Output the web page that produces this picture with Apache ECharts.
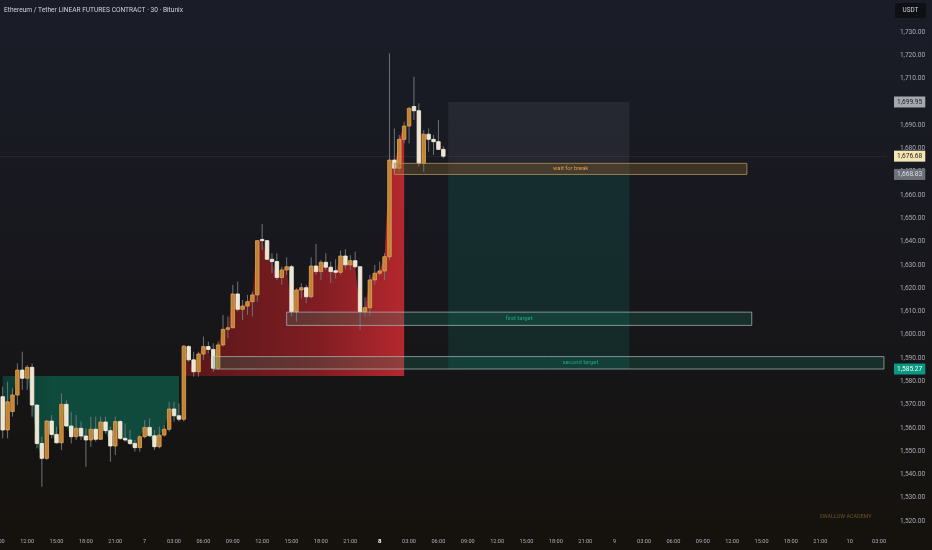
<!DOCTYPE html>
<html><head><meta charset="utf-8">
<script src="https://cdn.jsdelivr.net/npm/echarts@6/dist/echarts.min.js"></script>
<style>html,body{margin:0;padding:0;background:#17181d}#c{width:932px;height:550px}</style>
</head><body><div id="c"></div>
<script>
// ---- time slots (30 min), starting 6th 09:00 ----
const startDay = 6, startMinutes = 9 * 60, slotCount = 182, slotMinutes = 30;
const times = [];
for (let i = 0; i < slotCount; i++) {
  const m = startMinutes + i * slotMinutes;
  const d = startDay + Math.floor(m / 1440), mm = m % 1440;
  times.push(d + ' ' + String(Math.floor(mm / 60)).padStart(2, '0') + ':' + String(mm % 60).padStart(2, '0'));
}
const firstCandle = '6 09:30';
const boldDay = '8';

// ---- candles ----
const opens  = [1573.4,1559.1,1567.0,1574.1,1584.8,1581.3,1586.0,1569.8,1553.3,1546.9,1562.9,1557.2,1553.6,1570.1,1560.8,1556.2,1559.8,1556.5,1554.8,1559.4,1555.1,1562.5,1558.8,1552.2,1562.7,1555.5,1554.8,1553.3,1551.5,1556.2,1560.2,1556.6,1551.9,1556.9,1559.4,1568.1,1565.2,1563.7,1594.9,1589.2,1584.1,1591.7,1594.9,1593.7,1585.6,1595.6,1602.3,1603.0,1617.5,1610.9,1612.3,1614.2,1617.1,1640.9,1640.4,1632.4,1631.4,1624.6,1627.8,1629.2,1609.9,1619.2,1620.2,1616.3,1629.5,1627.1,1631.1,1629.0,1627.5,1626.8,1633.8,1630.0,1631.8,1629.2,1609.9,1611.6,1623.5,1626.4,1627.4,1633.5,1675.0,1671.5,1683.9,1689.6,1698.0,1696.2,1673.6,1686.1,1683.9,1682.9,1679.6];
const closes = [1559.1,1571.2,1574.1,1584.8,1581.3,1586.0,1569.8,1553.3,1546.9,1562.9,1557.2,1553.6,1570.1,1560.8,1556.2,1559.8,1556.5,1554.8,1559.4,1555.1,1562.5,1558.8,1552.2,1562.7,1555.5,1554.8,1553.3,1551.5,1556.2,1560.2,1556.6,1551.9,1556.9,1559.4,1568.1,1565.2,1563.7,1595.1,1589.2,1584.1,1591.7,1594.9,1593.7,1585.6,1595.6,1602.3,1603.0,1617.5,1610.9,1612.3,1614.2,1617.1,1640.4,1640.4,1632.4,1631.4,1624.6,1627.8,1629.2,1609.9,1619.2,1620.2,1616.3,1629.5,1627.1,1631.1,1629.0,1627.1,1626.8,1633.8,1630.0,1631.8,1629.2,1609.9,1611.6,1623.5,1626.4,1627.4,1633.5,1675.0,1671.5,1683.9,1689.6,1697.2,1696.2,1673.6,1686.1,1683.9,1682.9,1679.6,1676.68];
const lows   = [1555.5,1555.5,1564.8,1569.8,1576.3,1576.3,1564.8,1551.2,1534.7,1546.2,1555.5,1553.3,1550.5,1560.5,1553.3,1554.8,1554.8,1543.3,1551.9,1554.1,1554.8,1557.6,1545.5,1548.3,1554.8,1554.1,1552.6,1549.8,1549.8,1555.5,1556.2,1550.5,1551.2,1556.2,1558.4,1562.7,1562.7,1562.7,1588.4,1582.0,1582.0,1589.2,1592.0,1584.1,1584.9,1594.9,1598.5,1602.7,1609.9,1606.3,1608.5,1607.8,1614.2,1636.4,1632.1,1626.4,1623.5,1621.4,1625.7,1607.8,1605.6,1615.6,1613.5,1615.6,1625.7,1623.5,1627.8,1622.1,1624.2,1625.7,1628.1,1627.8,1628.5,1602.0,1607.8,1608.0,1621.4,1625.7,1623.5,1632.0,1670.0,1670.0,1682.2,1682.2,1692.2,1672.2,1670.0,1678.6,1677.2,1679.3,1675.7];
const highs  = [1577.7,1579.8,1577.0,1587.7,1592.7,1587.0,1587.7,1569.8,1556.2,1563.4,1565.5,1560.5,1574.8,1571.9,1566.9,1565.5,1562.7,1559.8,1564.8,1564.8,1564.8,1564.8,1560.5,1564.8,1563.4,1561.9,1559.1,1554.8,1556.9,1563.4,1564.1,1559.1,1560.5,1561.2,1571.2,1571.2,1570.5,1595.6,1595.6,1592.7,1592.7,1599.2,1597.0,1596.3,1597.0,1608.5,1607.8,1621.4,1622.8,1614.9,1617.1,1618.5,1640.7,1647.6,1640.7,1635.0,1635.0,1629.2,1633.2,1630.0,1619.9,1622.1,1621.4,1633.2,1639.0,1632.1,1635.0,1631.4,1632.4,1636.1,1636.7,1634.2,1635.7,1629.2,1616.1,1625.7,1630.0,1631.4,1635.0,1720.8,1688.6,1685.8,1691.5,1697.9,1710.8,1699.4,1687.9,1688.6,1685.8,1692.2,1681.0];

// ---- fill zones ----
const fillLevel = 1582.3;
const greenZone = ['6 09:30', '7 03:30'];
const redZone = ['7 04:00', '8 02:30'];

// ---- drawn boxes ----
const boxNames   = ['wait for break', 'first target', 'second target'];
const boxFrom    = ['8 01:30', '7 14:30', '7 07:00'];
const boxTo      = ['9 13:30', '9 14:00', '10 03:30'];
const boxTop     = [1673.6, 1609.7, 1590.6];
const boxBottom  = [1668.83, 1604.0, 1585.27];

// ---- position tool ----
const positionFrom = '8 07:00', positionTo = '9 01:30';
const positionStop = 1699.95, positionEntry = 1668.83, positionTarget = 1585.27;

// ---- price tags ----
const lastPrice = 1676.68;
const tagPrices = [1699.95, 1676.68, 1668.83, 1585.27];

// ---- derived ----
const c0 = times.indexOf(firstCandle);
const candleData = opens.map((o, k) => [c0 + k, o, closes[k], lows[k], highs[k]]);
const closeAt = i => { const k = i - c0; return (k >= 0 && k < closes.length) ? closes[k] : null; };
const gA = times.indexOf(greenZone[0]), gB = times.indexOf(greenZone[1]);
const rA = times.indexOf(redZone[0]), rB = times.indexOf(redZone[1]);
const greenBase = times.map((t, i) => (i >= gA && i <= gB) ? Math.min(closeAt(i), fillLevel) : null);
const greenFill = times.map((t, i) => (i >= gA && i <= gB) ? fillLevel - Math.min(closeAt(i), fillLevel) : null);
const redBase = times.map((t, i) => (i >= rA && i <= rB) ? fillLevel : null);
const redFill = times.map((t, i) => (i >= rA && i <= rB) ? Math.max(closeAt(i) - fillLevel, 0) : null);

const fmt = v => v.toLocaleString('en-US', {minimumFractionDigits: 2, maximumFractionDigits: 2});
const FONT = 'Roboto';

const boxStyles = [
  {fill: 'rgba(140,108,48,0.32)', border: 'rgba(175,145,92,0.8)', text: '#e69d38', dx: 0},
  {fill: 'rgba(28,140,112,0.22)', border: 'rgba(175,190,186,0.7)', text: '#1fa782', dx: 0},
  {fill: 'rgba(28,140,112,0.22)', border: 'rgba(175,190,186,0.7)', text: '#1fa782', dx: 32}
];
const boxAreas = boxNames.map((n, j) => [
  {name: n, coord: [boxFrom[j], boxTop[j]],
   itemStyle: {color: boxStyles[j].fill, borderColor: boxStyles[j].border, borderWidth: 1},
   label: {show: true, position: 'inside', color: boxStyles[j].text, fontSize: 5.8, fontFamily: FONT, offset: [boxStyles[j].dx, 0]}},
  {coord: [boxTo[j], boxBottom[j]]}
]);

const tagStyles = {
  1699.95: {bg: '#a6a8b0', fg: '#1c1e25'},
  1676.68: {bg: '#f5e6b6', fg: '#2a2416'},
  1668.83: {bg: '#6d7079', fg: '#dcdde2'},
  1585.27: {bg: '#089981', fg: '#ffffff'}
};
const tagLines = tagPrices.map(p => ({
  yAxis: p,
  lineStyle: p === lastPrice ? {color: 'rgba(200,200,200,0.16)', type: 'dotted', width: 1} : {color: 'rgba(0,0,0,0)', width: 0},
  label: {show: true, position: 'end', distance: 7.6, formatter: () => fmt(p),
    backgroundColor: tagStyles[p].bg, color: tagStyles[p].fg, padding: [2, 3, 2, 3],
    fontSize: 6.6, fontFamily: FONT}
}));

const chart = echarts.init(document.getElementById('c'), null, {renderer: 'canvas'});
chart.setOption({
  animation: false,
  backgroundColor: new echarts.graphic.LinearGradient(0, 0, 0, 1, [
    {offset: 0, color: '#1a1d28'}, {offset: 0.5, color: '#17171c'}, {offset: 1, color: '#15120d'}]),
  title: {text: 'Ethereum / Tether LINEAR FUTURES CONTRACT · 30 · Bitunix', left: 4, top: 7, padding: 0,
    textStyle: {color: '#d1d4dc', fontSize: 6.6, fontWeight: 'normal', fontFamily: FONT}},
  grid: {left: -4.65, right: 45.6, top: -14.57, bottom: 5.71, containLabel: false, outerBoundsMode: 'none'},
  xAxis: {type: 'category', data: times, boundaryGap: true, offset: -7,
    axisLine: {show: false}, axisTick: {show: false}, splitLine: {show: false},
    axisLabel: {color: '#a9acb4', fontSize: 5.6, fontFamily: FONT, margin: 1,
      interval: (idx, v) => { const t = v.split(' ')[1]; const h = +t.slice(0, 2), m = +t.slice(3); return m === 0 && h % 3 === 0; },
      formatter: v => { const [d, t] = v.split(' '); if (t === '00:00') return d === boldDay ? '{b|' + d + '}' : d; return t; },
      rich: {b: {color: '#ffffff', fontWeight: 'bold', fontSize: 6, fontFamily: FONT}}}},
  yAxis: {type: 'value', position: 'right', min: 1510, max: 1750, interval: 10, scale: true,
    axisLine: {show: false}, axisTick: {show: false}, splitLine: {show: false},
    axisLabel: {color: '#a9acb4', fontSize: 6.6, fontFamily: FONT, margin: 13.5,
      formatter: v => (v > 1730 || v < 1520) ? '' : fmt(v)}},
  graphic: [
    {type: 'rect', shape: {x: 895, y: 3, width: 31, height: 15, r: 1}, style: {fill: '#0f1016'}, z: 100},
    {type: 'text', x: 910.5, y: 10.5, style: {text: 'USDT', fill: '#d1d4dc', fontSize: 6.4, fontFamily: FONT, align: 'center', verticalAlign: 'middle'}, z: 101},
    {type: 'text', x: 845.5, y: 516.5, style: {text: 'SWALLOW ACADEMY', fill: '#6a5420', fontSize: 5.4, fontFamily: FONT, align: 'center', verticalAlign: 'middle'}, z: 101}
  ],
  series: [
    {type: 'line', name: 'gb', data: greenBase, stack: 'g', symbol: 'none', lineStyle: {width: 0}, silent: true, z: 1},
    {type: 'line', name: 'gf', data: greenFill, stack: 'g', symbol: 'none', lineStyle: {width: 0}, silent: true, z: 1,
      areaStyle: {opacity: 1, color: new echarts.graphic.LinearGradient(0, 0, 1, 0, [
        {offset: 0, color: '#0c3b31'}, {offset: 0.3, color: '#0f4b3d'}, {offset: 1, color: '#0f4a3c'}])}},
    {type: 'line', name: 'rb', data: redBase, stack: 'r', symbol: 'none', lineStyle: {width: 0}, silent: true, z: 1},
    {type: 'line', name: 'rf', data: redFill, stack: 'r', symbol: 'none', lineStyle: {width: 0}, silent: true, z: 1,
      areaStyle: {opacity: 1, color: new echarts.graphic.LinearGradient(0, 0, 1, 0, [
        {offset: 0, color: '#571719'}, {offset: 0.6, color: '#7f1d22'}, {offset: 1, color: '#b4282e'}])}},
    {type: 'line', name: 'position', data: [], silent: true, z: 2,
      markArea: {silent: true, z: 2, data: [
        [{coord: [positionFrom, positionStop], itemStyle: {color: 'rgba(130,133,145,0.13)'}}, {coord: [positionTo, positionEntry]}],
        [{coord: [positionFrom, positionEntry], itemStyle: {color: 'rgba(8,153,129,0.16)'}}, {coord: [positionTo, positionTarget]}]
      ]}},
    {type: 'custom', name: 'ETHUSDT', data: candleData, z: 5, clip: true,
      encode: {x: 0, y: [1, 2, 3, 4]},
      renderItem: (params, api) => {
        const i = api.value(0), o = api.value(1), c = api.value(2), l = api.value(3), h = api.value(4);
        const pO = api.coord([i, o]), pC = api.coord([i, c]), pL = api.coord([i, l]), pH = api.coord([i, h]);
        const w = api.size([1, 0])[0] * 0.72;
        const x = pO[0];
        const up = c >= o;
        const top = Math.min(pO[1], pC[1]), bot = Math.max(pO[1], pC[1]);
        return {type: 'group', children: [
          {type: 'line', shape: {x1: x, y1: pH[1], x2: x, y2: pL[1]}, style: {stroke: '#6f727a', lineWidth: 1}},
          {type: 'rect', shape: {x: x - w / 2, y: top, width: w, height: Math.max(bot - top, 1)},
            style: {fill: up ? '#c08336' : '#eee5d0', stroke: up ? '#e3a54f' : '#f7f1e3', lineWidth: 0.8}}
        ]};
      }},
    {type: 'line', name: 'boxes', data: [], silent: true, z: 6,
      markArea: {silent: true, z: 6, data: boxAreas},
      markLine: {silent: true, z: 7, symbol: 'none', data: tagLines}}
  ]
});
</script></body></html>
